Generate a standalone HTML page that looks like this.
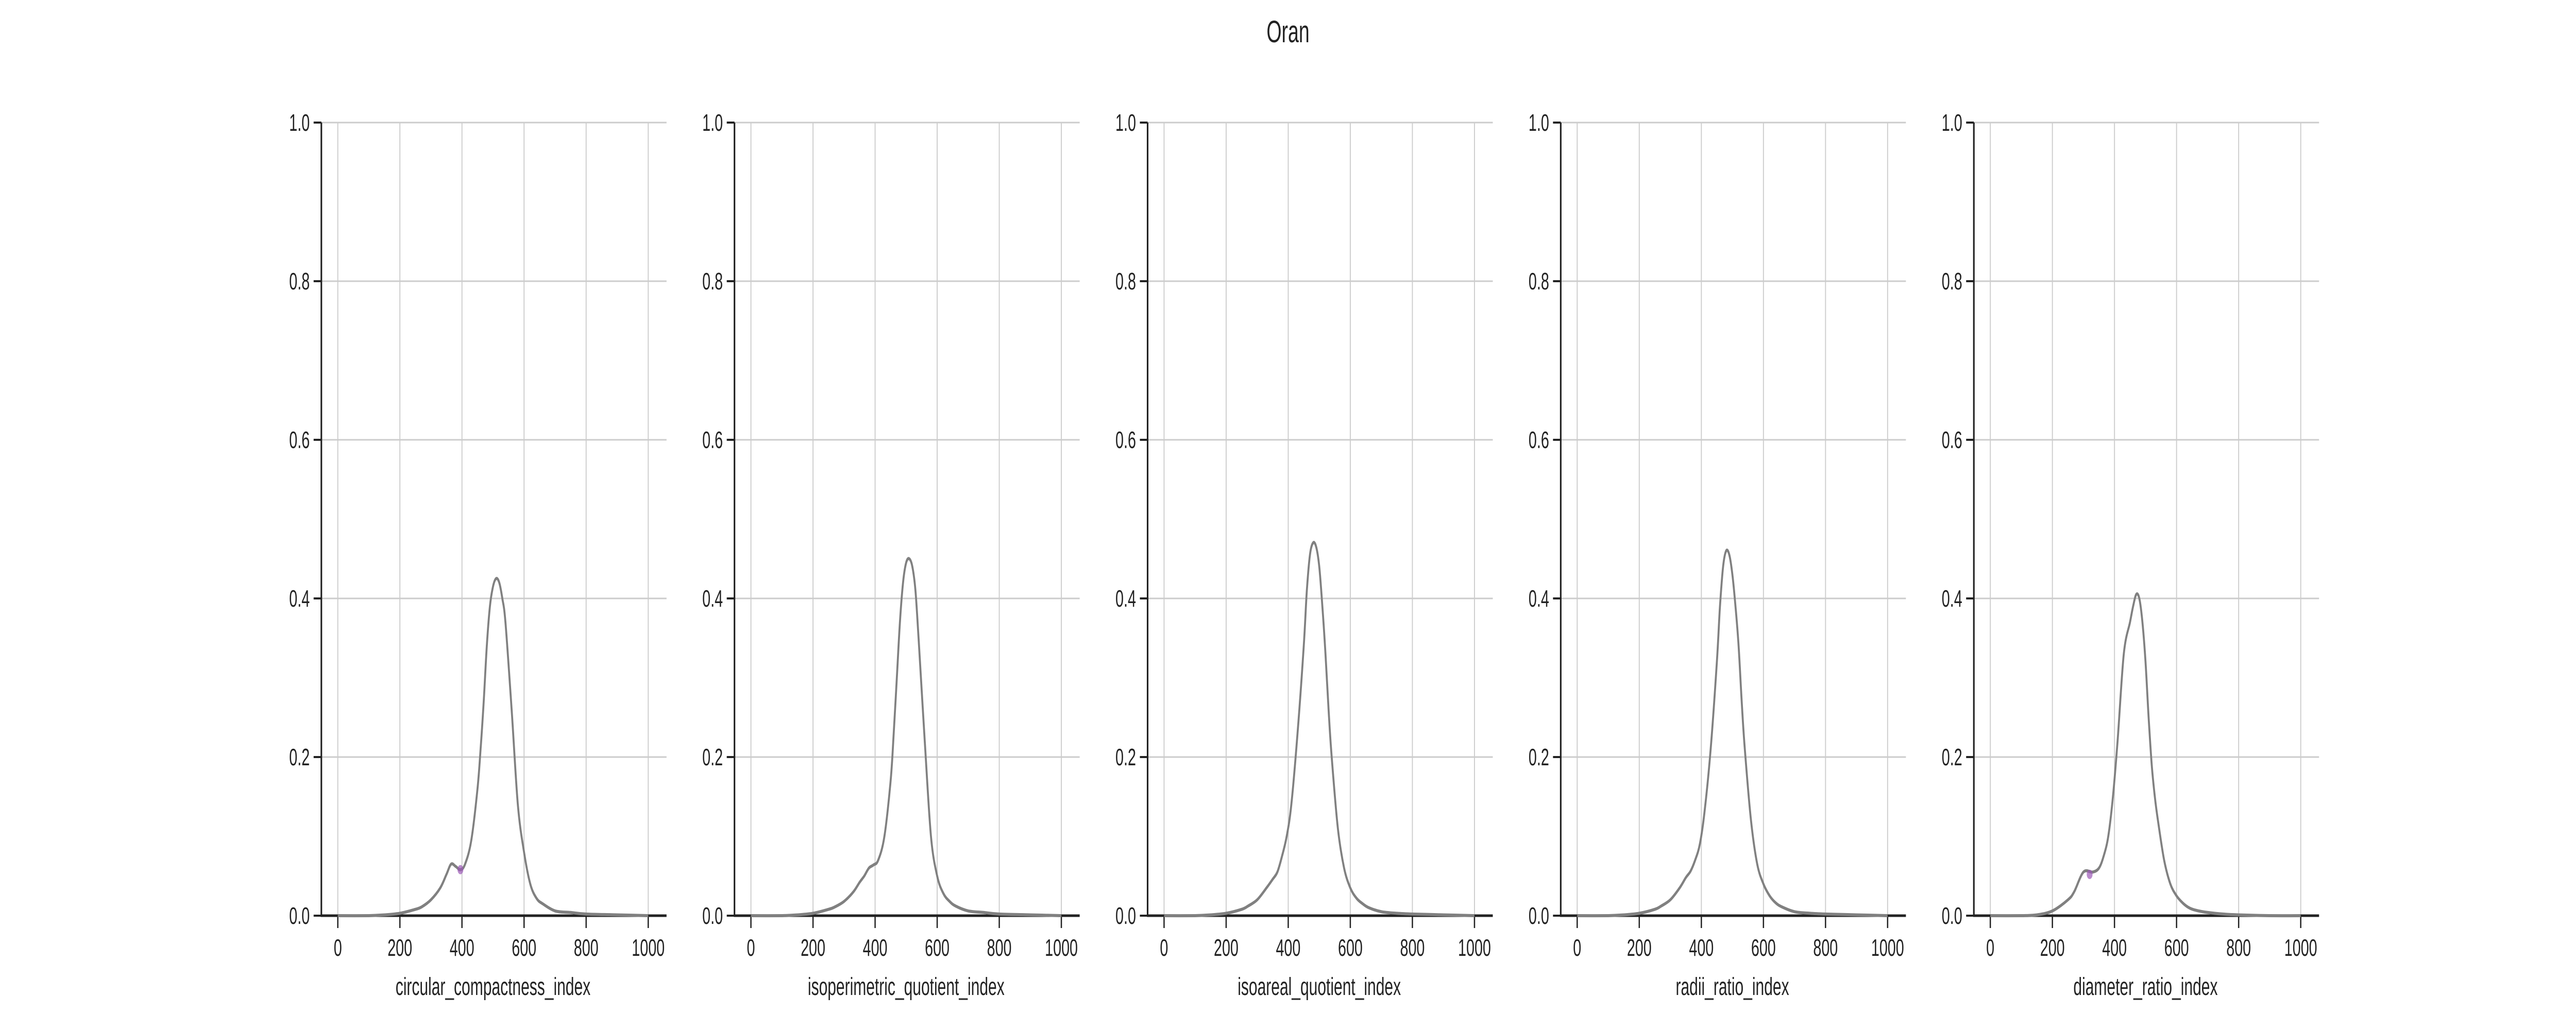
<!DOCTYPE html>
<html><head><meta charset="utf-8"><style>
html,body{margin:0;padding:0;background:#fff;width:100%;height:100%;overflow:hidden;}
svg{display:block;font-family:"Liberation Sans",sans-serif;width:100vw;height:100vh;}
</style></head><body>
<svg id="chart" viewBox="0 0 8000 2000" preserveAspectRatio="none">
<text x="4000" y="82" text-anchor="middle" font-size="60" fill="#222">Oran</text>
</svg>
<script>
const panelTitles = ["circular_compactness_index","isoperimetric_quotient_index","isoareal_quotient_index","radii_ratio_index","diameter_ratio_index"];
const xTicks = [0,200,400,600,800,1000];
const yTicks = [0.0,0.2,0.4,0.6,0.8,1.0];
const xs = [0,100,150,200,250,270,300,330,350,365,380,395,410,430,450,460,470,480,490,500,510,520,530,540,560,580,600,620,640,660,700,750,800,900,1000];
const s1 = [0,0,0.001,0.003,0.008,0.011,0.02,0.035,0.052,0.065,0.062,0.058,0.065,0.095,0.16,0.21,0.27,0.34,0.39,0.415,0.425,0.42,0.4,0.37,0.26,0.14,0.08,0.04,0.022,0.015,0.006,0.004,0.002,0.001,0];
const s2 = [0,0,0.001,0.003,0.008,0.011,0.018,0.03,0.042,0.05,0.06,0.064,0.07,0.1,0.17,0.23,0.3,0.37,0.42,0.445,0.45,0.44,0.41,0.35,0.22,0.1,0.05,0.028,0.018,0.012,0.006,0.004,0.002,0.001,0];
const s3 = [0,0,0.001,0.003,0.008,0.012,0.02,0.035,0.046,0.055,0.075,0.1,0.14,0.23,0.34,0.41,0.455,0.47,0.465,0.44,0.39,0.33,0.26,0.2,0.11,0.06,0.035,0.022,0.015,0.01,0.005,0.003,0.002,0.001,0];
const s4 = [0,0,0.001,0.003,0.008,0.012,0.02,0.035,0.048,0.056,0.07,0.09,0.13,0.21,0.32,0.39,0.44,0.46,0.455,0.43,0.39,0.34,0.27,0.21,0.12,0.065,0.04,0.025,0.016,0.011,0.005,0.003,0.002,0.001,0];
const s5 = [0,0,0.001,0.006,0.02,0.03,0.055,0.055,0.06,0.075,0.1,0.15,0.22,0.33,0.37,0.39,0.405,0.4,0.37,0.32,0.25,0.19,0.15,0.12,0.07,0.04,0.025,0.016,0.01,0.007,0.004,0.002,0.001,0,0];
const series = [s1,s2,s3,s4,s5];
const markerX = [395,null,null,null,320];
const markerY = [0.058,null,null,null,0.052];

const svg = document.getElementById('chart');
const NS = "http://www.w3.org/2000/svg";
const axLeft0 = 998, panelStep = 1283, axW = 1072, yTop = 238, yBot = 1778;
const xMin = -53, xMax = 1059;
function mk(tag, attrs, parent){const e=document.createElementNS(NS,tag);for(const k in attrs)e.setAttribute(k,attrs[k]);(parent||svg).appendChild(e);return e;}
function smoothPath(pts){
  let d='M'+pts[0][0].toFixed(1)+','+pts[0][1].toFixed(1);
  for(let i=0;i<pts.length-1;i++){
    const p0=pts[Math.max(0,i-1)],p1=pts[i],p2=pts[i+1],p3=pts[Math.min(pts.length-1,i+2)];
    const c1=[p1[0]+(p2[0]-p0[0])/6,p1[1]+(p2[1]-p0[1])/6];
    const c2=[p2[0]-(p3[0]-p1[0])/6,p2[1]-(p3[1]-p1[1])/6];
    d+=' C'+c1[0].toFixed(1)+','+c1[1].toFixed(1)+' '+c2[0].toFixed(1)+','+c2[1].toFixed(1)+' '+p2[0].toFixed(1)+','+p2[1].toFixed(1);
  }
  return d;
}
panelTitles.forEach((title,p)=>{
  const left = axLeft0 + p*panelStep;
  const xScale = v => left + (v - xMin)/(xMax - xMin)*axW;
  const yScale = v => yBot - v*(yBot - yTop);
  const g = mk('g',{});
  
  
  yTicks.forEach(t=>{
    const y=yScale(t);
    const gl=mk('line',{x1:left,x2:left+axW,y1:y,y2:y,stroke:'#cccccc','stroke-width':3},g);
    
    
    mk('line',{x1:left-24,x2:left,y1:y,y2:y,stroke:'#222','stroke-width':4},g);
    const tx=mk('text',{x:left-36,y:y+16,'text-anchor':'end','font-size':46,fill:'#222'},g);
    tx.textContent=t.toFixed(1);
    
    
  });
  xTicks.forEach(t=>{
    const x=xScale(t);
    const gl=mk('line',{x1:x,x2:x,y1:yTop,y2:yBot,stroke:'#cccccc','stroke-width':3},g);
    
    
    mk('line',{x1:x,x2:x,y1:yBot,y2:yBot+24,stroke:'#222','stroke-width':4},g);
    const tx=mk('text',{x:x,y:yBot+78,'text-anchor':'middle','font-size':46,fill:'#222'},g);
    tx.textContent=String(t);
    
    
  });
  const ya=mk('line',{x1:left,x2:left,y1:yTop,y2:yBot+2,stroke:'#222','stroke-width':5},g);
  
  
  const xa=mk('line',{x1:left-2,x2:left+axW,y1:yBot,y2:yBot,stroke:'#222','stroke-width':5},g);
  
  
  const pts = xs.map((v,i)=>[xScale(v), yScale(series[p][i])]);
  const path=mk('path',{d:smoothPath(pts),fill:'none',stroke:'#808080','stroke-width':6,'stroke-linejoin':'round'},g);
  
  
  if(markerX[p]!==null){
    const c=mk('circle',{cx:xScale(markerX[p]),cy:yScale(markerY[p]),r:9,fill:'#9b59b6','fill-opacity':0.7},g);
    
    
  }
  const lab=mk('text',{x:xScale(500),y:1932,'text-anchor':'middle','font-size':48,fill:'#222'},g);
  lab.textContent=title;
  
  
});
</script>
</body></html>
